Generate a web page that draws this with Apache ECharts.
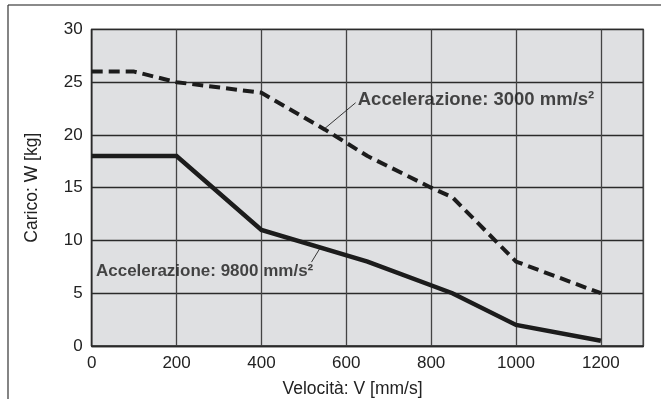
<!DOCTYPE html>
<html>
<head>
<meta charset="utf-8">
<title>Carico in funzione della velocità</title>
<script src="https://cdn.jsdelivr.net/npm/echarts@6/dist/echarts.min.js"></script>
<style>
  html, body { margin: 0; padding: 0; background: #ffffff; }
  #chart { width: 661px; height: 399px; }
</style>
</head>
<body>
<div id="chart"></div>
<script>
// Velocity axis ticks (mm/s) and load axis ticks (kg)
const xTicks = [0, 200, 400, 600, 800, 1000, 1200];
const yTicks = [0, 5, 10, 15, 20, 25, 30];

// Curve for acceleration 3000 mm/s² (dashed)
const speed3000 = [0, 100, 200, 400, 550, 650, 800, 850, 1000, 1200];
const load3000 = [26, 26, 25, 24, 20.5, 18, 15, 14.1, 8, 5];

// Curve for acceleration 9800 mm/s² (solid)
const speed9800 = [0, 200, 400, 650, 850, 1000, 1200];
const load9800 = [18, 18, 11, 8, 5, 2, 0.5];

// Curve captions: text, anchor (left edge, vertical centre) in data units
const captionTexts = ['Accelerazione: 3000 mm/s²', 'Accelerazione: 9800 mm/s²'];
const captionAnchors = [[627, 23.3], [10, 7.05]];
// Leader lines from each curve to its caption, in data units
const leaderLines = [
  [[549, 20.6], [622, 23.05]],
  [[537, 9.2], [518, 7.95]]
];

const chart = echarts.init(document.getElementById('chart'), null, { renderer: 'canvas' });

const pairs = (xs, ys) => xs.map((x, i) => [x, ys[i]]);
const lineColor = '#1c1c1c';
const textFont = 'Liberation Sans, Arial, Helvetica, sans-serif';
const captionFont = '"Liberation Sans Narrow", "Arial Narrow", "Liberation Sans", sans-serif';
const captionSizes = [18.5, 17];

const leaderSeries = leaderLines.map((seg) => ({
  type: 'line',
  data: seg,
  symbol: 'none',
  silent: true,
  lineStyle: { color: '#222', width: 0.9 },
  z: 4
}));

const captionSeries = captionAnchors.map((p, i) => ({
  type: 'scatter',
  data: [p],
  symbolSize: 0,
  silent: true,
  z: 6,
  label: {
    show: true,
    position: 'right',
    distance: 0,
    formatter: () => captionTexts[i],
    fontFamily: captionFont,
    fontWeight: 'bold',
    fontSize: captionSizes[i],
    color: '#1a1a1a'
  }
}));

chart.setOption({
  animation: false,
  backgroundColor: '#ffffff',
  grid: {
    left: 91.7, right: 17.7, top: 29.4, bottom: 53,
    outerBoundsMode: 'none',
    show: true,
    backgroundColor: '#dfe0e2',
    borderColor: '#2a2a2a',
    borderWidth: 1.4
  },
  xAxis: {
    type: 'value',
    min: xTicks[0],
    max: 1300,
    interval: xTicks[1] - xTicks[0],
    name: 'Velocità: V [mm/s]',
    nameLocation: 'middle',
    nameGap: 34,
    nameTextStyle: { fontFamily: textFont, fontSize: 17.5, color: '#222', padding: [0, 30, 0, 0] },
    axisLine: { show: true, lineStyle: { color: '#2a2a2a', width: 1.4 } },
    axisTick: { show: false },
    axisLabel: {
      showMaxLabel: false,
      margin: 9,
      fontFamily: textFont, fontSize: 17, color: '#222',
      formatter: (v) => (xTicks.indexOf(v) >= 0 ? String(v) : '')
    },
    splitLine: { show: true, lineStyle: { color: '#444', width: 1.3 } }
  },
  yAxis: {
    type: 'value',
    min: yTicks[0],
    max: yTicks[yTicks.length - 1],
    interval: yTicks[1] - yTicks[0],
    name: 'Carico: W [kg]',
    nameLocation: 'middle',
    nameGap: 51,
    nameTextStyle: { fontFamily: textFont, fontSize: 17.5, color: '#222' },
    axisLine: { show: true, lineStyle: { color: '#2a2a2a', width: 1.4 } },
    axisTick: { show: false },
    axisLabel: { margin: 9, fontFamily: textFont, fontSize: 17, color: '#222' },
    splitLine: { show: true, lineStyle: { color: '#2a2a2a', width: 1.3 } }
  },
  series: [
    {
      name: '3000',
      type: 'line',
      data: pairs(speed3000, load3000),
      symbol: 'none',
      lineStyle: { color: lineColor, width: 4, type: [11, 6], cap: 'butt' },
      z: 5
    },
    {
      name: '9800',
      type: 'line',
      data: pairs(speed9800, load9800),
      symbol: 'none',
      lineStyle: { color: lineColor, width: 4.5, join: 'miter' },
      z: 5
    },
    ...leaderSeries,
    ...captionSeries
  ],
  graphic: [
    // page frame: grey rule along the top, dark rule down the left side
    { type: 'line', shape: { x1: 8, y1: 5, x2: 661, y2: 5 }, style: { stroke: '#8a8a8a', lineWidth: 2 } },
    { type: 'line', shape: { x1: 8, y1: 5, x2: 8, y2: 399 }, style: { stroke: '#333', lineWidth: 1.2 } }
  ]
});
</script>
</body>
</html>
